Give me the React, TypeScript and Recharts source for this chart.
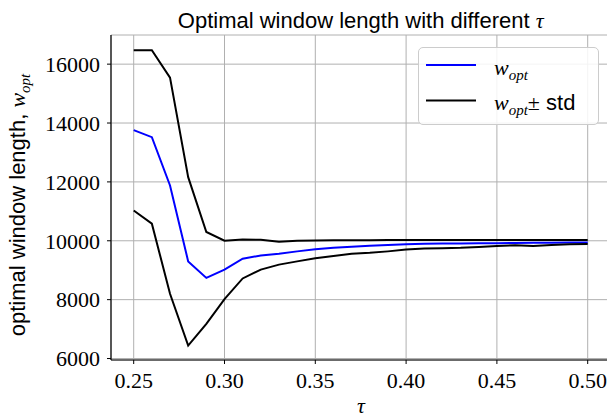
import React from 'react';
import { LineChart, Line, XAxis, YAxis, CartesianGrid, Legend, Label } from 'recharts';

const tau = [0.25, 0.26, 0.27, 0.28, 0.29, 0.3, 0.31, 0.32, 0.33, 0.34, 0.35, 0.36, 0.37, 0.38, 0.39, 0.4, 0.41, 0.42, 0.43, 0.44, 0.45, 0.46, 0.47, 0.48, 0.49, 0.5];
const wOpt = [13760, 13520, 11880, 9300, 8740, 9020, 9390, 9500, 9560, 9640, 9710, 9760, 9800, 9830, 9860, 9880, 9895, 9905, 9910, 9915, 9920, 9925, 9930, 9935, 9940, 9945];
const wUpper = [16475, 16470, 15540, 12160, 10300, 10000, 10045, 10035, 9970, 10000, 10010, 10015, 10020, 10020, 10025, 10025, 10025, 10025, 10030, 10030, 10030, 10030, 10030, 10030, 10030, 10030];
const wLower = [11030, 10580, 8200, 6440, 7180, 8020, 8720, 9020, 9190, 9300, 9410, 9480, 9560, 9590, 9640, 9700, 9740, 9750, 9760, 9790, 9820, 9850, 9820, 9860, 9880, 9890];
const xTicks = [0.25, 0.3, 0.35, 0.4, 0.45, 0.5];
const yTicks = [6000, 8000, 10000, 12000, 14000, 16000];

const data = tau.map((t, i) => ({ tau: t, opt: wOpt[i], up: wUpper[i], lo: wLower[i] }));

const SERIF = '"Liberation Serif", "DejaVu Serif", serif';
const SANS = '"Liberation Sans", Arial, sans-serif';

const LegendBox = () => (
  <div style={{ width: 181, height: 78, border: '1px solid #cccccc', borderRadius: 5, background: 'rgba(255,255,255,0.85)', boxSizing: 'border-box' }}>
    <svg width={181} height={78} style={{ display: 'block', position: 'absolute', left: 0, top: 0 }}>
      <line x1={8} x2={58} y1={18} y2={18} stroke="#0000ff" strokeWidth={2} />
      <text x={76} y={28} fontFamily={SERIF} fontSize={22} fill="#000">
        <tspan fontStyle="italic">w</tspan>
        <tspan fontStyle="italic" fontSize={15} dy={5}>opt</tspan>
      </text>
      <line x1={8} x2={58} y1={53.5} y2={53.5} stroke="#000" strokeWidth={2} />
      <text x={76} y={63} fontFamily={SERIF} fontSize={22} fill="#000">
        <tspan fontStyle="italic">w</tspan>
        <tspan fontStyle="italic" fontSize={15} dy={5}>opt</tspan>
        <tspan dy={-5}>±</tspan>
        <tspan fontFamily={SANS}> std</tspan>
      </text>
    </svg>
  </div>
);

const YLabel = () => (
  <text x={25} y={205} transform="rotate(-90, 25, 205)" textAnchor="middle" fontSize={22} fill="#000">
    <tspan fontFamily={SANS}>optimal window length, </tspan>
    <tspan fontFamily={SERIF} fontStyle="italic">w</tspan>
    <tspan fontFamily={SERIF} fontStyle="italic" fontSize={15} dy={5}>opt</tspan>
  </text>
);

const XLabel = () => (
  <text x={361} y={413} textAnchor="middle" fontFamily={SERIF} fontStyle="italic" fontSize={22} fill="#000">τ</text>
);

export default function App() {
  return (
    <div style={{ position: 'fixed', left: 0, top: 0, width: 607, height: 417, overflow: 'hidden', background: '#fff' }}>
      <svg width={607} height={40} style={{ position: 'absolute', left: 0, top: 0 }}>
        <text x={360.7} y={28} textAnchor="middle" fontSize={22} fill="#000">
          <tspan fontFamily={SANS}>Optimal window length with different </tspan>
          <tspan fontFamily={SERIF} fontStyle="italic">τ</tspan>
        </text>
      </svg>
      <div style={{ position: 'absolute', left: 0, top: 0 }}>
        <LineChart width={620} height={417} data={data} margin={{ top: 35, right: 9.6, bottom: 0, left: 0 }}>
          <CartesianGrid stroke="#b0b0b0" strokeWidth={1} />
          <XAxis
            dataKey="tau"
            type="number"
            domain={[0.2375, 0.5125]}
            allowDataOverflow
            ticks={xTicks}
            tickFormatter={(v: number) => v.toFixed(2)}
            height={57}
            tickSize={4}
            tickMargin={8}
            stroke="#000"
            tick={{ fill: '#000', fontFamily: SERIF, fontSize: 22 }}
            tickLine={{ stroke: '#000' }}
            axisLine={{ stroke: '#000', strokeWidth: 1.2 }}
            interval={0}
          >
            <Label content={<XLabel />} />
          </XAxis>
          <XAxis
            xAxisId="top"
            orientation="top"
            dataKey="tau"
            type="number"
            domain={[0.2375, 0.5125]}
            height={0}
            tick={false}
            tickLine={false}
            axisLine={{ stroke: '#000', strokeWidth: 1.2 }}
          />
          <YAxis
            type="number"
            domain={[5950, 16990]}
            allowDataOverflow
            ticks={yTicks}
            width={111}
            tickSize={4}
            tickMargin={7}
            stroke="#000"
            tick={{ fill: '#000', fontFamily: SERIF, fontSize: 22 }}
            tickLine={{ stroke: '#000' }}
            axisLine={{ stroke: '#000', strokeWidth: 1.2 }}
            interval={0}
          >
            <Label content={<YLabel />} />
          </YAxis>
          <Legend
            layout="horizontal"
            verticalAlign="middle"
            align="center"
            content={<LegendBox />}
            wrapperStyle={{ position: 'absolute', left: 418, top: 47, width: 181, height: 78 }}
          />
          <Line dataKey="opt" stroke="#0000ff" strokeWidth={2} dot={false} isAnimationActive={false} />
          <Line dataKey="up" stroke="#000" strokeWidth={2} dot={false} isAnimationActive={false} />
          <Line dataKey="lo" stroke="#000" strokeWidth={2} dot={false} isAnimationActive={false} />
        </LineChart>
      </div>
    </div>
  );
}
